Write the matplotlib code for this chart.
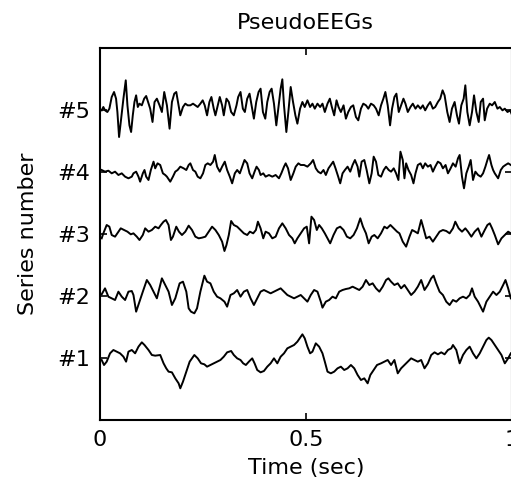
import matplotlib
matplotlib.use("Agg")
import matplotlib.pyplot as plt

#---------------------------------------------------------------------
# Pseudo EEG traces.
# sample index at fs = 1230 Hz, amplitude in raw units (gain below)
#---------------------------------------------------------------------
fs = 1230.0
gain = 1.0 / 186.0
seriesLabels = ['#1', '#2', '#3', '#4', '#5']
xTickValues = [0, 0.5, 1]
xTickLabels = ['0', '0.5', '1']

s1_idx = [5, 12, 20, 30, 40, 50, 60, 70, 78, 85, 95, 105, 115, 125, 133, 145, 155, 165, 180, 190,
          198, 205, 215, 225, 235, 240, 248, 258, 268, 282, 292, 302, 312, 320, 330, 340, 350, 360, 370, 380,
          392, 400, 410, 420, 428, 436, 445, 455, 462, 470, 480, 490, 500, 510, 520, 530, 540, 550, 560, 570,
          580, 590, 600, 605, 612, 620, 628, 635, 645, 655, 665, 672, 680, 690, 700, 710, 720, 730, 740, 750,
          760, 770, 780, 790, 800, 808, 818, 828, 840, 850, 860, 870, 880, 890, 900, 910, 920, 930, 940, 950,
          960, 970, 980, 990, 1000, 1010, 1020, 1030, 1040, 1050, 1055, 1065, 1075, 1085, 1095, 1105, 1115, 1125, 1135, 1145,
          1155, 1162, 1170, 1180, 1190, 1200, 1210, 1220, 1228]
s1_amp = [-6, -21, -11, 14, 24, 19, 14, 4, -11, 19, 24, 14, 34, 47, 39, 24, 9, 7, 9, -16,
          -31, -41, -43, -61, -76, -91, -71, -41, -11, 9, -1, -16, -19, -26, -21, -16, -11, -6, 4, 17,
          21, 9, -1, -6, -16, -21, -11, -1, -16, -36, -43, -39, -26, -16, -1, -16, 4, 14, 29, 34,
          39, 49, 64, 71, 59, 34, 14, 19, 44, 34, 14, -11, -41, -46, -41, -31, -26, -36, -31, -21,
          -31, -51, -66, -61, -76, -51, -36, -21, -16, -11, -6, -21, -6, -46, -31, -21, -11, -1, -6, -11,
          -6, -31, -16, 9, 17, 11, 17, 11, 24, 29, 39, 24, -16, 9, 24, 34, 14, -1, 14, 34,
          54, 61, 54, 39, 24, 9, -16, -1, 14]

s2_idx = [5, 15, 25, 35, 45, 55, 65, 75, 85, 95, 100, 108, 118, 128, 140, 150, 160, 170, 185, 195,
          205, 215, 225, 238, 248, 258, 265, 272, 282, 290, 300, 312, 320, 330, 340, 350, 360, 372, 380, 390,
          400, 410, 420, 430, 440, 450, 460, 470, 480, 490, 500, 510, 520, 530, 540, 550, 560, 570, 580, 590,
          600, 610, 620, 630, 640, 650, 660, 665, 675, 685, 695, 705, 715, 725, 735, 745, 755, 765, 775, 785,
          795, 805, 815, 825, 835, 845, 855, 862, 870, 880, 890, 900, 910, 920, 930, 940, 950, 960, 970, 980,
          990, 997, 1005, 1015, 1025, 1035, 1045, 1055, 1065, 1075, 1085, 1095, 1105, 1112, 1120, 1130, 1145, 1155, 1165, 1175,
          1185, 1195, 1205, 1212, 1220, 1228]
s2_amp = [5, 23, -2, -7, -12, 13, -2, -12, 13, 15, 3, -47, -17, 13, 48, 33, 13, -7, 53, 33,
          13, -27, -7, 38, 43, 13, -37, -47, -52, -37, 13, 61, 43, 38, 13, -2, -7, -17, -32, 3,
          8, 18, -2, 13, 18, -7, -27, -7, 13, 18, 13, 8, 13, 18, 23, 13, 3, -2, -7, -2,
          3, -7, -17, 3, 18, 13, -17, -35, -17, -12, -2, -7, 13, 18, 21, 23, 28, 23, 18, 28,
          48, 33, 38, 23, 13, 28, 48, 53, 43, 33, 38, 23, 33, 18, 3, 13, 28, 48, 18, 33,
          53, 61, 38, 13, 3, -17, -27, -12, -17, -7, -2, -7, 3, 23, -2, -17, -47, -17, -2, 13,
          3, 13, 33, 48, 23, -7]

s3_idx = [5, 10, 20, 28, 35, 45, 55, 62, 72, 82, 92, 100, 110, 118, 128, 135, 145, 155, 165, 175,
          182, 190, 197, 205, 212, 218, 228, 236, 245, 255, 265, 275, 285, 295, 305, 315, 325, 335, 345, 355,
          365, 372, 378, 385, 392, 400, 410, 420, 430, 440, 448, 458, 466, 472, 480, 488, 495, 505, 515, 525,
          535, 545, 555, 565, 575, 582, 590, 600, 610, 618, 625, 632, 640, 648, 655, 663, 672, 680, 688, 698,
          708, 718, 728, 738, 748, 758, 768, 778, 786, 795, 803, 812, 820, 830, 840, 850, 858, 868, 878, 888,
          895, 905, 915, 925, 933, 942, 950, 960, 967, 975, 985, 995, 1005, 1015, 1025, 1035, 1045, 1055, 1062, 1072,
          1082, 1092, 1100, 1110, 1120, 1130, 1140, 1150, 1158, 1165, 1172, 1180, 1190, 1200, 1210, 1220, 1228]
s3_amp = [-13, 2, 27, 22, -3, -8, 7, 17, 12, 7, -1, 2, -8, -18, -3, 17, 7, 12, 22, 17,
          27, 37, 42, 27, -18, -8, 22, 7, -3, 7, 25, 12, -8, -13, -11, -8, 7, 22, 12, -3,
          -23, -51, -33, -3, 39, 27, 22, 12, 2, -3, 7, 2, 12, 37, 17, -13, 7, 2, -13, -8,
          17, 32, 17, -3, -13, -28, -13, 2, 17, 22, -28, 52, 42, 12, 27, 17, 2, -13, -28, -3,
          17, 22, 12, -8, -13, -3, 17, 47, 22, 2, -28, -8, -3, -13, 2, 22, 17, 27, 17, 7,
          2, -23, -38, -8, 12, 7, 2, 42, 17, -13, -8, -23, -8, 7, 12, 9, 2, 17, 37, 17,
          7, 17, 7, -8, 7, 17, -8, 12, 27, 32, 17, -3, -31, -13, -3, 7, 2]

s4_idx = [5, 15, 25, 35, 45, 55, 65, 75, 85, 95, 100, 108, 115, 120, 128, 133, 138, 145, 152, 160,
          165, 172, 180, 188, 195, 200, 210, 218, 225, 232, 240, 250, 258, 265, 270, 278, 285, 292, 300, 308,
          315, 322, 330, 338, 343, 350, 358, 365, 373, 380, 388, 395, 403, 410, 418, 425, 432, 440, 447, 455,
          462, 468, 475, 480, 488, 495, 505, 515, 525, 535, 542, 550, 555, 562, 570, 578, 585, 593, 600, 610,
          620, 630, 637, 645, 652, 660, 668, 675, 683, 690, 697, 704, 712, 718, 725, 732, 740, 748, 755, 762,
          770, 775, 782, 790, 797, 805, 812, 818, 825, 832, 840, 848, 855, 863, 870, 878, 885, 892, 898, 905,
          910, 915, 922, 930, 937, 943, 950, 958, 965, 972, 980, 988, 995, 1002, 1010, 1018, 1025, 1033, 1040, 1048,
          1055, 1063, 1070, 1075, 1082, 1088, 1095, 1102, 1108, 1115, 1122, 1130, 1138, 1145, 1152, 1158, 1163, 1170, 1175, 1180,
          1190, 1198, 1205, 1212, 1220, 1228]
s4_amp = [6, 1, 4, -4, 1, -9, -4, -14, -19, -14, -4, 1, -14, -29, -4, 6, -14, -24, 6, 31,
          11, 26, 21, -4, -9, -14, -29, -14, 1, 6, 16, 11, 6, 21, 26, 6, 1, -14, -19, -4,
          21, 26, 21, 31, 51, 16, 1, 16, 31, 6, -14, -34, -4, 6, -4, 16, 36, 26, -4, -19,
          1, 16, 6, -9, -4, -14, -9, -14, -9, -19, -4, 16, 26, 11, -24, -4, 16, 26, 21, 21,
          16, 26, 36, 11, 1, -4, 6, -9, 11, 21, 31, 11, -14, -34, -4, 6, 16, 1, 21, 36,
          16, -14, 31, 36, 6, -34, -4, 46, 31, -9, -14, 6, 16, 6, 1, 11, -4, -24, 61, 36,
          -19, 26, 6, -9, -34, -4, 21, 26, 11, 26, 16, 21, 1, 16, 31, 26, 11, 21, -4, 11,
          26, 16, 41, 51, -14, -49, -4, 16, 36, -24, 1, -9, -14, -4, 16, 36, 51, 21, 6, -4,
          -19, 6, 16, 21, 26, 21]

s5_idx = [5, 10, 15, 22, 28, 35, 42, 48, 52, 57, 62, 70, 77, 82, 88, 93, 98, 103, 108, 113,
          118, 125, 132, 138, 150, 157, 163, 170, 178, 185, 192, 200, 208, 215, 222, 228, 235, 240, 248, 255,
          262, 270, 278, 285, 292, 300, 307, 313, 320, 327, 333, 340, 345, 352, 358, 365, 370, 378, 385, 392,
          400, 408, 413, 420, 427, 433, 440, 447, 453, 460, 467, 474, 480, 487, 494, 500, 507, 513, 520, 527,
          533, 540, 545, 550, 557, 563, 570, 577, 584, 590, 598, 605, 612, 620, 628, 635, 642, 650, 658, 665,
          672, 680, 687, 693, 700, 707, 713, 720, 728, 735, 742, 750, 757, 765, 772, 780, 787, 795, 802, 810,
          818, 825, 833, 840, 847, 853, 860, 867, 873, 880, 886, 893, 900, 907, 913, 920, 928, 935, 943, 950,
          958, 965, 972, 980, 987, 995, 1002, 1010, 1017, 1024, 1030, 1038, 1045, 1052, 1060, 1067, 1073, 1080, 1087, 1092,
          1098, 1105, 1112, 1118, 1125, 1132, 1138, 1145, 1150, 1157, 1165, 1172, 1180, 1188, 1195, 1203, 1210, 1218, 1226, 1230]
s5_amp = [-1, 9, -1, -6, 4, 39, 54, 34, -6, -81, -36, 34, 89, 14, -46, -66, -16, 24, 44, 9,
          19, 14, 34, 42, 4, -36, 24, 34, 14, -6, 54, 14, -56, 24, 49, 54, 14, -16, 9, 19,
          14, 14, 19, 14, 9, 19, 29, 14, -16, 24, 39, 4, -16, 14, 39, 14, -16, 34, 24, -6,
          -16, 14, 39, 54, 4, -6, 34, 49, 14, -26, 24, 54, 64, -6, -26, 24, 54, 64, 19, -46,
          4, 64, 92, 14, -66, -6, 69, 24, -16, -41, 4, 24, 9, 29, 9, 19, 4, 19, 9, 19,
          -6, 19, 34, 9, -16, 29, 9, -6, 14, -26, -6, 9, 14, -21, -31, 4, 19, 14, 4, 19,
          14, 4, -16, 14, 34, 54, 14, -46, 4, 39, 49, -6, 14, 34, 19, -6, 9, 19, 4, 14,
          4, 14, -1, 14, 24, 4, 9, 24, 34, 59, 44, -6, -36, 4, 24, -16, -41, 14, 34, 74,
          -6, -46, -6, 44, -6, -36, 24, 34, -31, 4, 19, 14, 24, 4, 9, -1, 4, -6, -1, -11]

seriesIdx = [s1_idx, s2_idx, s3_idx, s4_idx, s5_idx]
seriesAmp = [s1_amp, s2_amp, s3_amp, s4_amp, s5_amp]


def main():
    plt.rcParams['font.family'] = ['DejaVu Sans']
    fig = plt.figure(figsize=(5.11, 4.92), dpi=100)
    ax = fig.add_axes([100 / 511, 72 / 492, 411.5 / 511, 372 / 492])

    #------------- one trace per series, stacked on its series number
    for n in range(len(seriesIdx)):
        t = [i / fs for i in seriesIdx[n]]
        y = [n + 1 + a * gain for a in seriesAmp[n]]
        ax.plot(t, y, color='black', linewidth=1.4)

    ax.set_xlim(0, 1)
    ax.set_ylim(0, 6)
    ax.set_xticks(xTickValues)
    ax.set_xticklabels(xTickLabels)
    ax.set_yticks(range(1, len(seriesLabels) + 1))
    ax.set_yticklabels(seriesLabels)
    ax.tick_params(direction='in', top=True, right=True, length=5, width=1.2,
                   labelsize=16, pad=7)
    for spine in ax.spines.values():
        spine.set_linewidth(1.5)

    ax.set_xlabel('Time (sec)', fontsize=16, labelpad=6)
    ax.set_ylabel('Series number', fontsize=16, labelpad=14)
    ax.set_title('PseudoEEGs', fontsize=16, pad=14)

    fig.savefig('out.png', dpi=100)


if __name__ == "__main__":
    main()
